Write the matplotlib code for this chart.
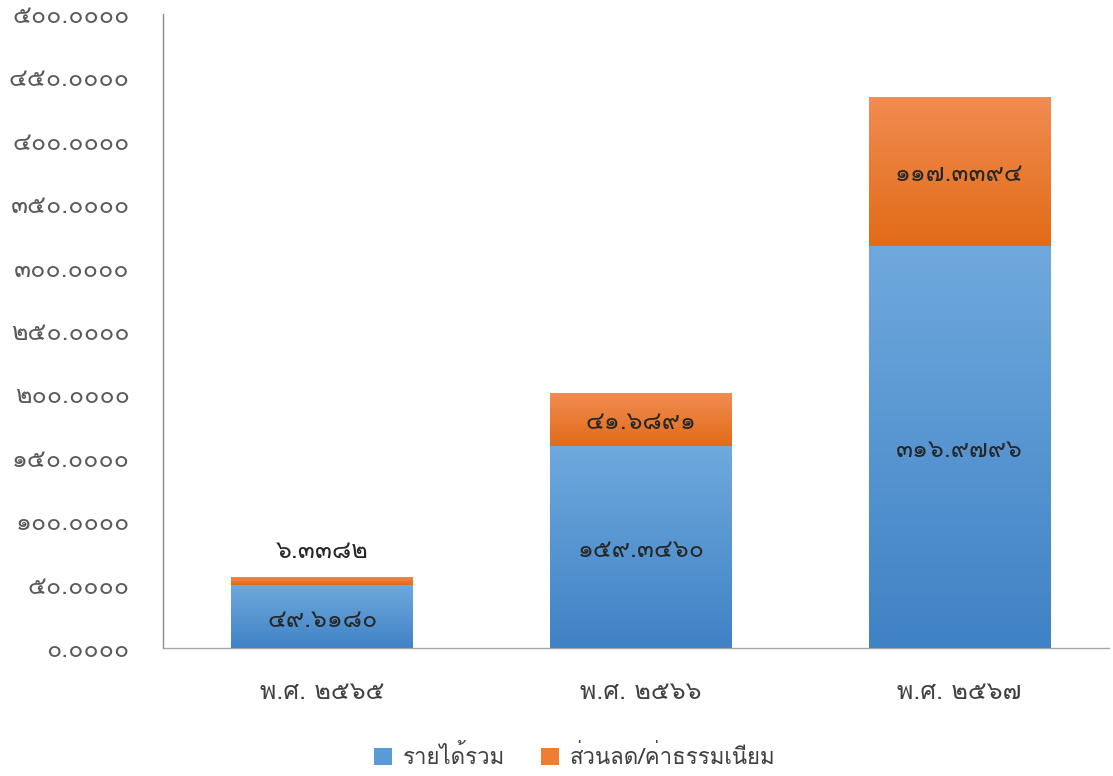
import matplotlib
matplotlib.use("Agg")
import matplotlib.pyplot as plt
import numpy as np
from matplotlib import font_manager
from matplotlib.ft2font import FT2Font
from matplotlib.patches import Patch

# ---------------- data ----------------
categories = ["พ.ศ. ๒๕๖๕", "พ.ศ. ๒๕๖๖", "พ.ศ. ๒๕๖๗"]
revenue = [49.6180, 159.3460, 316.9796]
discount = [6.3382, 41.6891, 117.3394]
series_names = ["รายได้รวม", "ส่วนลด/ค่าธรรมเนียม"]
y_ticks = [0, 50, 100, 150, 200, 250, 300, 350, 400, 450, 500]

# ---------------- fonts ----------------
thai_fams = []
for fe in font_manager.fontManager.ttflist:
    try:
        f = FT2Font(fe.fname)
        if f.get_char_index(ord("๕")) and f.get_char_index(ord("ก")):
            if fe.name not in thai_fams:
                thai_fams.append(fe.name)
    except Exception:
        pass
families = thai_fams + ["DejaVu Sans"]
plt.rcParams["font.family"] = families

TH_DIG = str.maketrans("0123456789", "๐๑๒๓๔๕๖๗๘๙")
def th(s):
    return s.translate(TH_DIG)

fig = plt.figure(figsize=(11.13, 7.76), dpi=100)
ax = fig.add_axes([163/1113, 128/776, 946/1113, 634/776])

x = np.arange(len(categories))
w = 0.57
b1 = ax.bar(x, revenue, w, color="#5B9BD5", zorder=2)
b2 = ax.bar(x, discount, w, bottom=revenue, color="#ED7D31", zorder=2)

# gradients
def grad(bars, top, bot):
    for r in bars:
        x0, y0 = r.get_x(), r.get_y()
        ww, hh = r.get_width(), r.get_height()
        cmap = matplotlib.colors.LinearSegmentedColormap.from_list("g", [bot, top])
        g = np.linspace(0, 1, 256).reshape(-1, 1)
        im = ax.imshow(g, extent=[x0, x0 + ww, y0, y0 + hh], origin="lower",
                       cmap=cmap, aspect="auto", zorder=3)
        im.set_clip_path(r)
grad(b1, "#6FA9DD", "#3F82C5")
grad(b2, "#F18C52", "#E26B17")

LW = "light"
for i in range(len(categories)):
    ax.text(x[i], revenue[i] / 2 - 3, th(f"{revenue[i]:.4f}"), ha="center", va="center",
            fontsize=18, color="#262626", zorder=5, fontweight=LW)
    if discount[i] > 15:
        ax.text(x[i], revenue[i] + discount[i] / 2 - 2, th(f"{discount[i]:.4f}"),
                ha="center", va="center", fontsize=18, color="#262626", zorder=5,
                fontweight=LW)
    else:
        ax.text(x[i], revenue[i] + discount[i] + 20, th(f"{discount[i]:.4f}"),
                ha="center", va="center", fontsize=18, color="#262626", zorder=5,
                fontweight=LW)

ax.set_xlim(-0.5, 2.47)
ax.set_ylim(0, 500)
ax.set_yticks(y_ticks)
ax.set_yticklabels([th(f"{v:.4f}") for v in y_ticks], fontsize=18, color="#595959",
                   fontweight=LW)
ax.set_xticks(x)
ax.set_xticklabels(categories, fontsize=18, color="#404040", fontweight=LW)
ax.tick_params(axis="y", length=0, pad=24)
ax.tick_params(axis="x", length=0, pad=24)
for s in ["top", "right"]:
    ax.spines[s].set_visible(False)
ax.spines["left"].set_color("#8C8C8C")
ax.spines["bottom"].set_color("#A6A6A6")
ax.spines["left"].set_linewidth(1)
ax.spines["bottom"].set_linewidth(1)

handles = [Patch(facecolor="#5B9BD5"), Patch(facecolor="#ED7D31")]
fig.legend(handles, series_names, loc="center", bbox_to_anchor=(575/1113, 1 - 757/776),
           ncol=2, frameon=False, handlelength=0.8, handleheight=0.8,
           columnspacing=1.6, handletextpad=0.5, labelcolor="#404040",
           prop={"size": 16, "weight": LW})

fig.savefig("out.png", dpi=100)
